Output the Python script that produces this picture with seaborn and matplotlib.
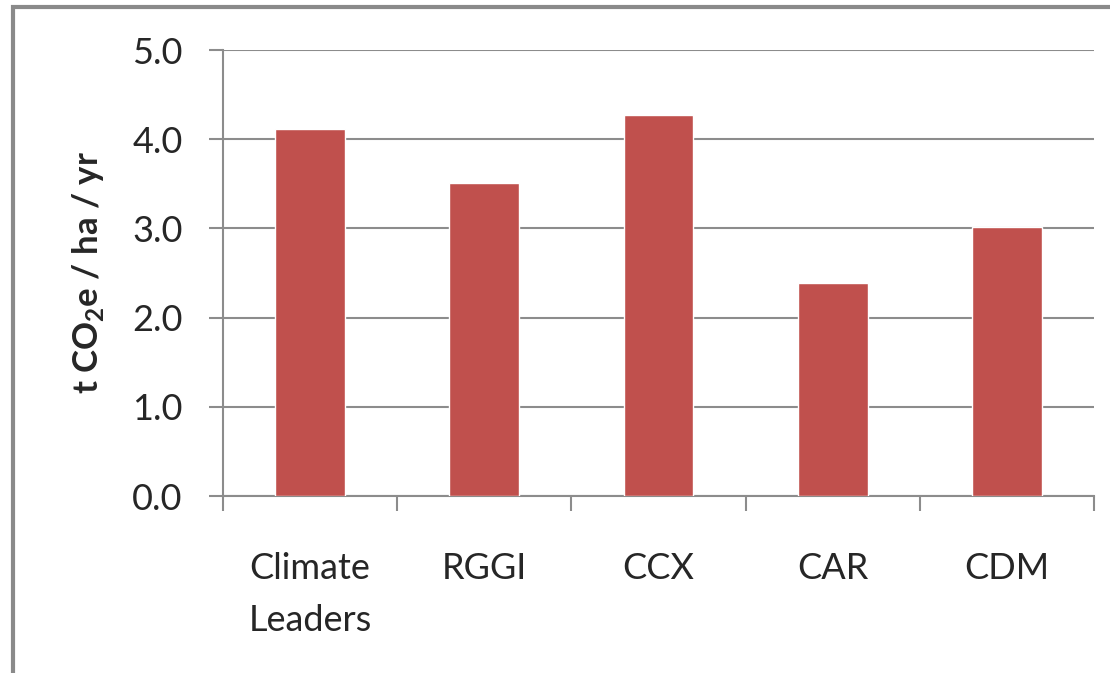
import seaborn as sns
import pandas as pd
import matplotlib.pyplot as plt
from matplotlib.patches import Rectangle

# Data
programs = ['Climate\nLeaders', 'RGGI', 'CCX', 'CAR', 'CDM']
sequestration = [4.11, 3.51, 4.27, 2.39, 3.02]
y_ticks = [0.0, 1.0, 2.0, 3.0, 4.0, 5.0]

df = pd.DataFrame({'Program': programs, 'Rate': sequestration})

sns.set_style('white')
plt.rcParams['font.family'] = ['Lato', 'DejaVu Sans']
plt.rcParams['mathtext.fontset'] = 'custom'
plt.rcParams['mathtext.rm'] = 'Lato'

grid_col = '#8c8c8c'
fig = plt.figure(figsize=(11.1, 6.73), dpi=100)
ax = fig.add_axes([0.2009, 0.263, 0.7847, 0.6627])

sns.barplot(x='Program', y='Rate', data=df, color='#C0504D', width=0.4,
            saturation=1, ax=ax, zorder=3)

ax.set_ylim(0, 5)
ax.set_xlim(-0.5, 4.5)
ax.set_yticks(y_ticks)
ax.set_yticklabels([f'{t:.1f}' for t in y_ticks], fontsize=26)
ax.yaxis.grid(True, color=grid_col, linewidth=1.5, zorder=0)
ax.set_axisbelow(True)

# category ticks between the bars
ax.set_xticks(range(len(programs)))
ax.set_xticklabels(programs, fontsize=26, linespacing=1.72)
ax.set_xticks([i - 0.5 for i in range(len(programs) + 1)], minor=True)
ax.tick_params(axis='x', which='major', length=0, pad=40)
ax.tick_params(axis='x', which='minor', length=11, width=1.5, color=grid_col,
               direction='out', bottom=True)
ax.tick_params(axis='y', length=10, width=1.5, color=grid_col, direction='out',
               left=True, pad=19)

for side in ['top', 'right']:
    ax.spines[side].set_visible(False)
for side in ['left', 'bottom']:
    ax.spines[side].set_color(grid_col)
    ax.spines[side].set_linewidth(1.5)

ax.set_xlabel('')
ax.set_ylabel(r't CO$_\mathregular{2}$e / ha / yr', fontsize=25,
              fontweight='bold', labelpad=19)

# outer frame of the picture
fig.patches.append(Rectangle((13 / 1110, -0.1), 1.2, 1.1 - 7 / 673,
                             transform=fig.transFigure, fill=False,
                             edgecolor='#8a8a8a', linewidth=3))

plt.savefig('out.png', dpi=100)
